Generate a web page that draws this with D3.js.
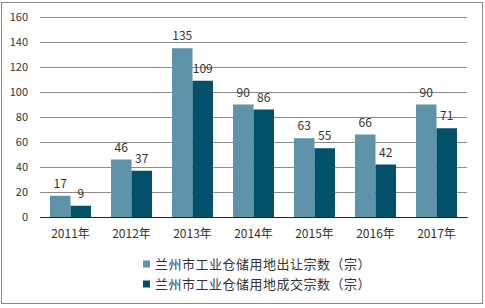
<!DOCTYPE html>
<html><head><meta charset="utf-8">
<script src="https://cdn.jsdelivr.net/npm/d3@7"></script>
<style>body{margin:0;background:#fff}svg{display:block}text{font-family:"Noto Sans CJK SC","DejaVu Sans",sans-serif}</style>
</head><body>
<svg id="c" width="485" height="308"></svg>
<script>
const categories = ["2011年","2012年","2013年","2014年","2015年","2016年","2017年"];
const seriesNames = ["兰州市工业仓储用地出让宗数（宗）","兰州市工业仓储用地成交宗数（宗）"];
const transferred = [17,46,135,90,63,66,90];
const traded = [9,37,109,86,55,42,71];
const yTicks = [0,20,40,60,80,100,120,140,160];
const colors = ["#5F93AA","#02506A"];

const svg = d3.select("#c");
svg.append("rect").attr("x",1.5).attr("y",2.5).attr("width",481).attr("height",301)
  .attr("fill","#fff").attr("stroke","#888").attr("stroke-width",1);

const L=40,R=467,T=17,B=217;
const x = d3.scaleBand().domain(categories).range([L,R]);
const y = d3.scaleLinear().domain([0,160]).range([B,T]);
const inner = d3.scaleBand().domain([0,1]).range([0,41]);

const gy = svg.append("g").attr("transform",`translate(${L},0)`)
  .call(d3.axisLeft(y).tickValues(yTicks).tickSize(-(R-L)).tickPadding(12));
gy.select(".domain").remove();
gy.selectAll(".tick line").attr("stroke","#8c8c8c").attr("stroke-width",1);
gy.selectAll(".tick text").attr("fill","#333").attr("font-size",11);

const series=[transferred,traded];
series.forEach((vals,si)=>{
  const g=svg.append("g");
  g.selectAll("rect").data(vals).join("rect")
    .attr("x",(d,i)=>x(categories[i])+10+inner(si))
    .attr("y",d=>y(d)).attr("width",inner.bandwidth()).attr("height",d=>B-y(d))
    .attr("fill",colors[si]);
  g.selectAll("text").data(vals).join("text")
    .attr("x",(d,i)=>x(categories[i])+10+inner(si)+inner.bandwidth()/2)
    .attr("y",d=>y(d)-8).attr("text-anchor","middle")
    .attr("font-size",12).attr("fill","#333").text(d=>d);
});

const gx = svg.append("g").attr("transform",`translate(0,${B})`)
  .call(d3.axisBottom(x).tickSize(0).tickPadding(12));
gx.select(".domain").attr("stroke","#222").attr("stroke-width",1);
gx.selectAll(".tick text").attr("fill","#333").attr("font-size",12);

const lg=svg.append("g");
seriesNames.forEach((n,i)=>{
  const yy=264+i*20;
  lg.append("rect").attr("x",143).attr("y",yy-3.5).attr("width",7).attr("height",7).attr("fill",colors[i]);
  lg.append("text").attr("x",155).attr("y",yy).attr("dy","0.35em").attr("font-size",13)
    .attr("letter-spacing","0.5px").attr("fill","#333").text(n);
});
</script>
</body></html>
